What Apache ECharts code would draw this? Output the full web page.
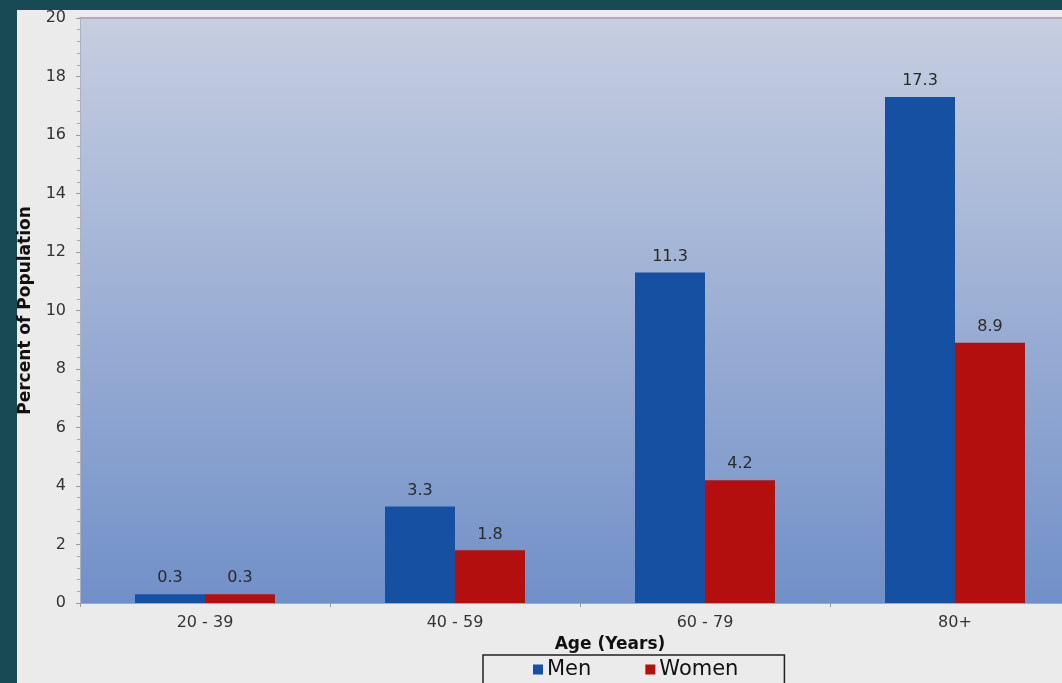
<!DOCTYPE html>
<html>
<head>
<meta charset="utf-8">
<script src="https://cdn.jsdelivr.net/npm/echarts@6/dist/echarts.min.js"></script>
<style>
  html, body { margin: 0; padding: 0; background: #174a53; overflow: hidden; }
  #root { width: 1080px; height: 683px; }
</style>
</head>
<body>
<div id="root"></div>
<script>
var ageGroups = ['20 - 39', '40 - 59', '60 - 79', '80+'];
var menValues = [0.3, 3.3, 11.3, 17.3];
var womenValues = [0.3, 1.8, 4.2, 8.9];
var yTicks = { min: 0, max: 20, step: 2 };

// plot runs past the right edge of the window, as in the original slide
var chart = echarts.init(document.getElementById('root'));

var labelStyle = {
  show: true,
  position: 'top',
  distance: 8,
  color: '#2a2a2a',
  fontSize: 16,
  fontFamily: 'DejaVu Sans'
};

var option = {
  backgroundColor: '#174a53',
  animation: false,
  textStyle: { fontFamily: 'DejaVu Sans' },
  graphic: [
    // light panel behind the chart
    { type: 'rect', z: -10, shape: { x: 17, y: 10, width: 1063, height: 673 },
      style: { fill: '#ebebeb' } }
  ],
  title: {
    text: 'Age (Years)',
    left: 605,
    top: 631,
    textAlign: 'center',
    textStyle: { fontSize: 17, fontWeight: 'bold', color: '#111', fontFamily: 'DejaVu Sans' }
  },
  legend: {
    left: 483,
    top: 655,
    data: ['Men', 'Women'],
    icon: 'rect',
    itemWidth: 10,
    itemHeight: 10,
    itemGap: 54,
    padding: [4, 46, 12, 50],
    borderColor: '#222',
    borderWidth: 1.5,
    textStyle: { fontSize: 21, color: '#111', padding: [0, 0, 0, -1] }
  },
  grid: {
    left: 80,
    top: 18,
    bottom: 80,
    right: 0,
    show: true,
    borderWidth: 0,
    backgroundColor: {
      type: 'linear', x: 0, y: 0, x2: 0, y2: 1,
      colorStops: [
        { offset: 0, color: '#c6cee0' },
        { offset: 1, color: '#7190c8' }
      ]
    }
  },
  xAxis: [
    {
      type: 'category',
      data: ageGroups,
      axisLine: { lineStyle: { color: '#a9a9b0', width: 1 } },
      axisTick: { show: true, length: 4, lineStyle: { color: '#999' } },
      axisLabel: { fontSize: 16, color: '#333', margin: 12 }
    },
    {
      type: 'category',
      position: 'top',
      data: ageGroups,
      axisLine: { show: true, lineStyle: { color: '#b5a9b6', width: 2 } },
      axisTick: { show: false },
      axisLabel: { show: false }
    }
  ],
  yAxis: {
    type: 'value',
    min: yTicks.min,
    max: yTicks.max,
    interval: yTicks.step,
    name: 'Percent of Population',
    nameLocation: 'middle',
    nameGap: 46,
    nameTextStyle: { fontSize: 17, fontWeight: 'bold', color: '#111' },
    axisLine: { show: true, lineStyle: { color: '#b0b0b8' } },
    axisTick: { show: true, length: 4, lineStyle: { color: '#999' } },
    minorTick: { show: true, splitNumber: 5, length: 3, lineStyle: { color: '#aaa' } },
    splitLine: { show: false },
    axisLabel: { fontSize: 16, color: '#333', margin: 14 }
  },
  series: [
    {
      name: 'Men',
      type: 'bar',
      data: menValues,
      barGap: '0%',
      barCategoryGap: '44%',
      itemStyle: { color: '#1550a3' },
      label: labelStyle
    },
    {
      name: 'Women',
      type: 'bar',
      data: womenValues,
      itemStyle: { color: '#b30f0f' },
      label: labelStyle
    }
  ]
};

chart.setOption(option);
</script>
</body>
</html>
